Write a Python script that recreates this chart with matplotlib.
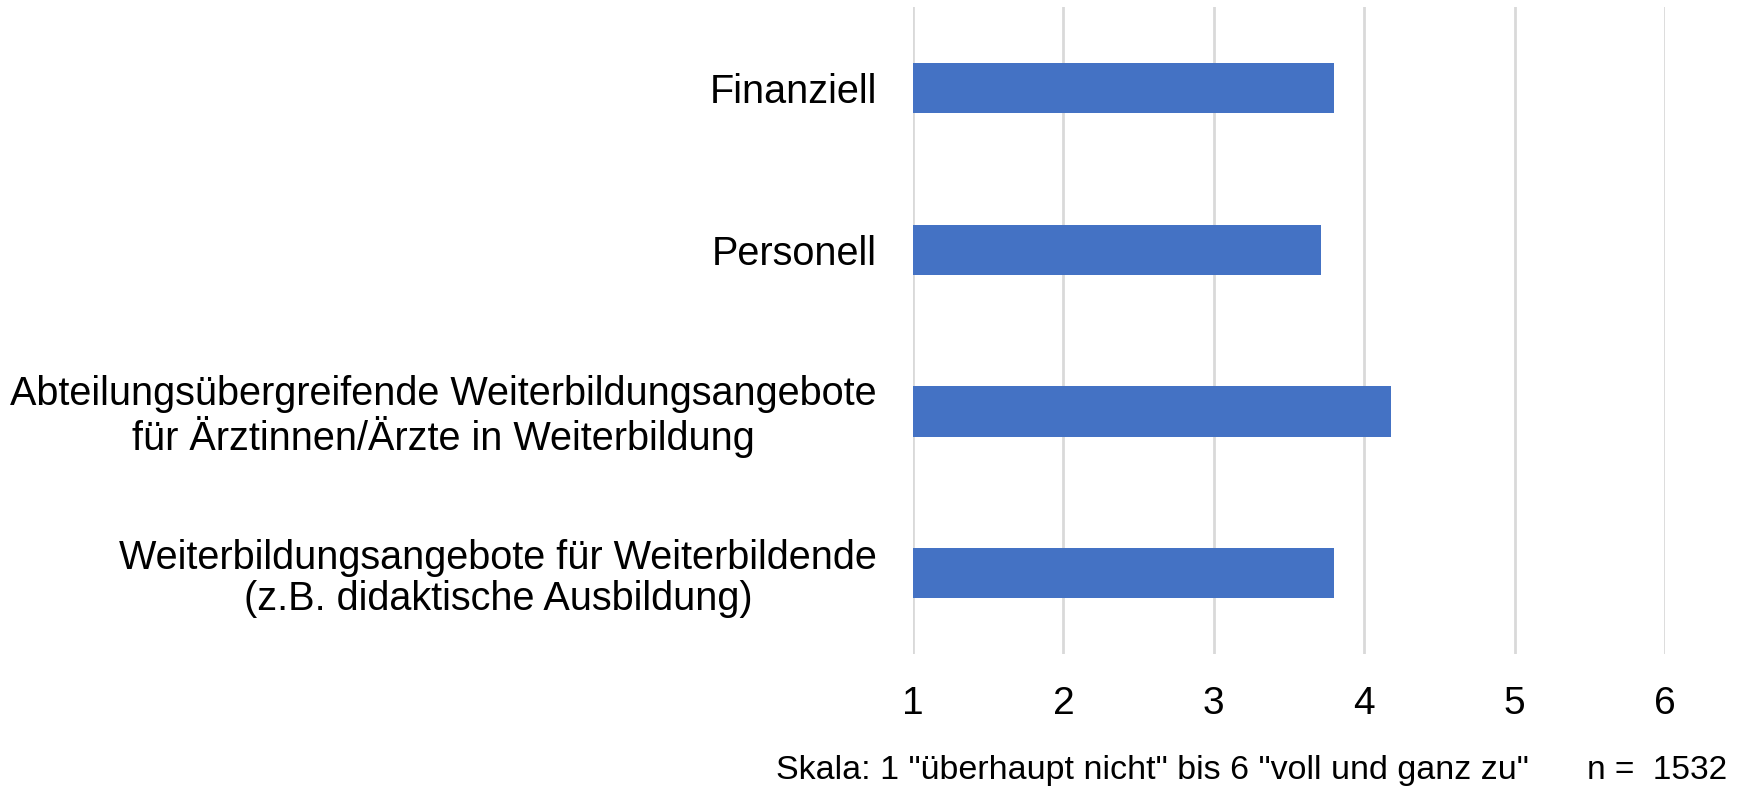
import matplotlib.pyplot as plt

plt.rcParams['font.family'] = ['Liberation Sans', 'DejaVu Sans']

categories = [
    "Finanziell",
    "Personell",
    "Abteilungsübergreifende Weiterbildungsangebote\nfür Ärztinnen/Ärzte in Weiterbildung",
    "Weiterbildungsangebote für Weiterbildende\n(z.B. didaktische Ausbildung)",
]
values = [3.80, 3.71, 4.18, 3.80]
xticks = [1, 2, 3, 4, 5, 6]
note = 'Skala: 1 "überhaupt nicht" bis 6 "voll und ganz zu"'
n_text = "n =  1532"

fig = plt.figure(figsize=(17.45, 7.9), dpi=100)
ax = fig.add_axes([0.5232, 0.172, 0.431, 0.819])

ypos = list(range(len(categories)))
ax.barh(ypos, [v - 1 for v in values], left=1, height=0.31, color='#4472C4', zorder=3)

ax.set_xlim(1, 6)
ax.set_ylim(len(categories) - 0.5, -0.5)
ax.set_xticks(xticks)
ax.set_xticklabels([str(t) for t in xticks], fontsize=28)
ax.set_yticks(ypos)
ax.set_yticklabels(categories, fontsize=28.5, multialignment='center', linespacing=1.08)
ax.tick_params(axis='x', length=0, pad=23)
ax.tick_params(axis='y', length=0, pad=26)
ax.grid(axis='x', color='#d9d9d9', linewidth=2, zorder=0)
for s in ax.spines.values():
    s.set_visible(False)

fig.text(0.4447, 0.025, note, fontsize=24.5, ha='left', va='center')
fig.text(0.99, 0.025, n_text, fontsize=24, ha='right', va='center')

fig.savefig('out.png', dpi=100)
